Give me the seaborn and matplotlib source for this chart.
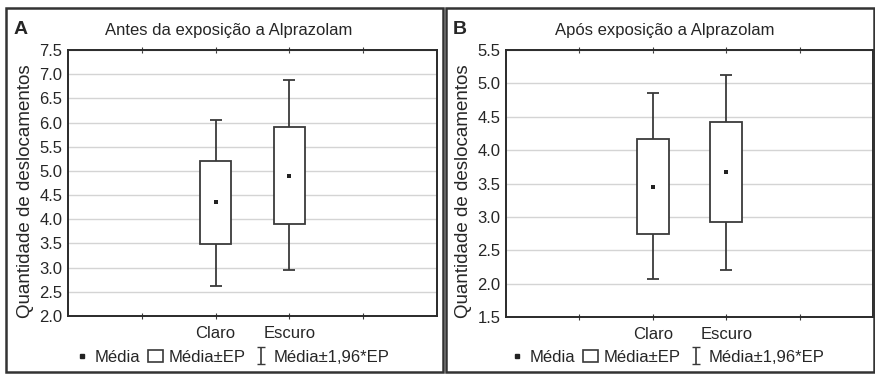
"""
Quantidade de deslocamentos: claro x escuro, antes e após Alprazolam
Média, Média±EP (caixa) e Média±1,96*EP (barras)
"""

import numpy as np
import pandas as pd
import matplotlib.pyplot as plt
from matplotlib.patches import Rectangle
from matplotlib.lines import Line2D
import seaborn as sns

sns.set_style('white')
plt.rcParams['font.family'] = ['Liberation Sans', 'DejaVu Sans']

# Dados
categorias = ['Claro', 'Escuro']

antes_media = [4.35, 4.90]
antes_ep_inf = [3.48, 3.90]
antes_ep_sup = [5.20, 5.90]
antes_ic_inf = [2.62, 2.95]
antes_ic_sup = [6.05, 6.87]

apos_media = [3.45, 3.67]
apos_ep_inf = [2.75, 2.93]
apos_ep_sup = [4.17, 4.42]
apos_ic_inf = [2.07, 2.20]
apos_ic_sup = [4.85, 5.13]

antes_yticks = [2.0, 2.5, 3.0, 3.5, 4.0, 4.5, 5.0, 5.5, 6.0, 6.5, 7.0, 7.5]
apos_yticks = [1.5, 2.0, 2.5, 3.0, 3.5, 4.0, 4.5, 5.0, 5.5]

cor = '#3a3a3a'
texto = '#262626'

fig = plt.figure(figsize=(8.75, 3.77), dpi=100)
W, H = 875, 377


def px_axes(x0, y0, x1, y1):
    return fig.add_axes([x0 / W, 1 - y1 / H, (x1 - x0) / W, (y1 - y0) / H])


def painel(ax, media, ep_inf, ep_sup, ic_inf, ic_sup, yticks):
    df = pd.DataFrame({'cat': categorias, 'media': media,
                       'ep_inf': ep_inf, 'ep_sup': ep_sup,
                       'ic_inf': ic_inf, 'ic_sup': ic_sup})
    df['x'] = np.arange(len(df)) + 2
    # Média±1,96*EP
    ax.errorbar(df['x'], df['media'],
                yerr=[df['media'] - df['ic_inf'], df['ic_sup'] - df['media']],
                fmt='none', ecolor=cor, elinewidth=1.3, capsize=4.5, capthick=1.3, zorder=2)
    # Média±EP
    ax.bar(df['x'], df['ep_sup'] - df['ep_inf'], bottom=df['ep_inf'], width=0.43,
           color='white', edgecolor=cor, linewidth=1.3, zorder=3)
    # Média
    sns.scatterplot(data=df, x='x', y='media', ax=ax, color='#222222', marker='s',
                    s=7, linewidth=0, zorder=4, legend=False)
    ax.set_xlim(0, 5)
    ax.set_ylim(yticks[0], yticks[-1])
    ax.set_yticks(yticks)
    ax.set_yticklabels([f'{t:.1f}' for t in yticks], fontsize=12, color=texto)
    ax.set_xticks([1, 2, 3, 4])
    ax.set_xticklabels(['', categorias[0], categorias[1], ''], fontsize=12, color=texto)
    ax.tick_params(axis='x', direction='inout', length=5, top=True, bottom=True,
                   color=cor, pad=5)
    ax.tick_params(axis='y', direction='out', length=2, color=cor, pad=2)
    ax.grid(axis='y', color='#d4d4d4', linewidth=1)
    ax.set_axisbelow(True)
    for s in ax.spines.values():
        s.set_color('#2a2a2a')
        s.set_linewidth(1.4)
    ax.set_xlabel('')
    ax.set_ylabel('Quantidade de deslocamentos', fontsize=13.5, color=texto,
                  va='center')
    ax.yaxis.set_label_coords(-0.115, 0.47)


axA = px_axes(68, 50, 437, 316)
painel(axA, antes_media, antes_ep_inf, antes_ep_sup, antes_ic_inf, antes_ic_sup, antes_yticks)
axB = px_axes(506, 50, 873, 317)
painel(axB, apos_media, apos_ep_inf, apos_ep_sup, apos_ic_inf, apos_ic_sup, apos_yticks)

# Molduras dos painéis
for x0, x1 in [(6, 443), (446, 874)]:
    fig.patches.append(Rectangle((x0 / W, 1 - 372 / H), (x1 - x0) / W, (372 - 8) / H,
                                 transform=fig.transFigure, fill=False,
                                 edgecolor='#333333', linewidth=1.8))

# Letras e títulos
fig.text(14 / W, 1 - 29 / H, 'A', fontsize=14, fontweight='bold', va='center')
fig.text(453 / W, 1 - 29 / H, 'B', fontsize=14, fontweight='bold', va='center')
fig.text(229 / W, 1 - 30 / H, 'Antes da exposição a Alprazolam', fontsize=12,
         ha='center', va='center', color=texto)
fig.text(665 / W, 1 - 30 / H, 'Após exposição a Alprazolam', fontsize=12,
         ha='center', va='center', color=texto)

# Legendas
for cx in [232, 667]:
    h_media = Line2D([], [], linestyle='none', marker='s', markersize=2.5, color='#222222')
    h_ep = Rectangle((0, 0), 1, 1, facecolor='white', edgecolor=cor, linewidth=1.2)
    h_ic = axA.errorbar([np.nan], [np.nan], yerr=[[1], [1]], fmt='none', ecolor=cor,
                        capsize=3, elinewidth=1.2)
    fig.legend([h_media, h_ep, h_ic], ['Média', 'Média±EP', 'Média±1,96*EP'],
               loc='center', bbox_to_anchor=(cx / W, 1 - 357 / H), ncol=3,
               frameon=False, fontsize=12, handlelength=0.9, handletextpad=0.3,
               columnspacing=0.5, borderpad=0, labelcolor=texto)

fig.savefig('out.png', dpi=100)
